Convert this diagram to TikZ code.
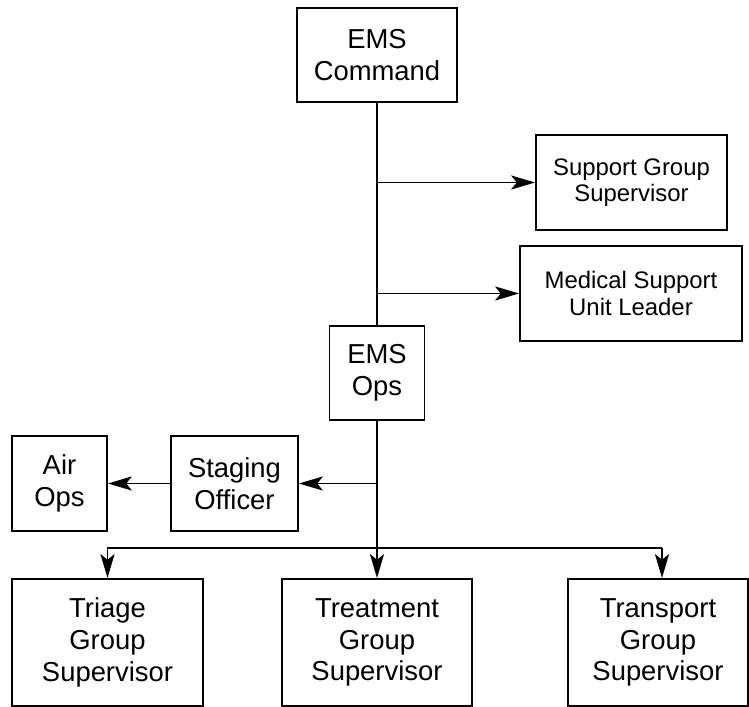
\documentclass[tikz,border=0pt]{standalone}
\usepackage{fontspec}
\setmainfont{Liberation Sans}
\usetikzlibrary{arrows.meta,positioning,calc}

\begin{document}
\begin{tikzpicture}[
  box/.style={draw, line width=0.55pt, align=center, inner sep=0pt,
    font=\fontsize{7.8}{9}\selectfont},
  smallbox/.style={box, font=\fontsize{6.8}{7.6}\selectfont},
  link/.style={line width=0.55pt},
  arr/.style={link, -{Stealth[length=6.8pt, width=4pt, inset=1.6pt]}}
]
\useasboundingbox (0,0) rectangle (7.49,-7.07);
% command chain
\node[box, minimum width=1.60cm, minimum height=0.94cm] (cmd) at (3.77,-0.55) {EMS\\Command};
\node[smallbox, minimum width=1.91cm, minimum height=0.95cm] (sup) at (6.315,-1.825) {Support Group\\Supervisor};
\node[smallbox, minimum width=2.22cm, minimum height=0.95cm] (med) at (6.31,-2.935) {Medical Support\\Unit Leader};
\node[box, minimum width=0.95cm, minimum height=0.94cm] (ops) at (3.77,-3.73) {EMS\\Ops};
% staging
\node[box, minimum width=1.27cm, minimum height=0.95cm] (stg) at (2.345,-4.835) {Staging\\Officer};
\node[box, minimum width=0.95cm, minimum height=0.95cm] (air) at (0.595,-4.835) {Air\\Ops};
% groups
\node[box, minimum width=1.91cm, minimum height=1.27cm] (tri) at (1.075,-6.425) {Triage\\Group\\Supervisor};
\node[box, minimum width=1.90cm, minimum height=1.27cm] (trt) at (3.77,-6.425) {Treatment\\Group\\Supervisor};
\node[box, minimum width=1.80cm, minimum height=1.27cm] (trn) at (6.58,-6.425) {Transport\\Group\\Supervisor};

% trunk and branches
\draw[link] (cmd.south) -- (ops.north);
\coordinate (jsup) at (cmd.south |- sup.west);
\coordinate (jmed) at (cmd.south |- med.west);
\draw[arr] (jsup) -- (sup.west);
\draw[arr] (jmed) -- (med.west);
\draw[arr] (ops.south) -- (trt.north);
\coordinate (jstg) at (ops.south |- stg.east);
\draw[arr] (jstg) -- (stg.east);
\draw[arr] (stg.west) -- (air.east);
% bus to the groups
\coordinate (bus) at (3.77,-5.48);
\coordinate (busR) at (6.62,-5.48);
\draw[link] (bus) -- (busR);
\draw[arr] (bus) -| (tri.north);
\draw[arr] (busR) -- (busR |- trn.north);
\end{tikzpicture}
\end{document}
